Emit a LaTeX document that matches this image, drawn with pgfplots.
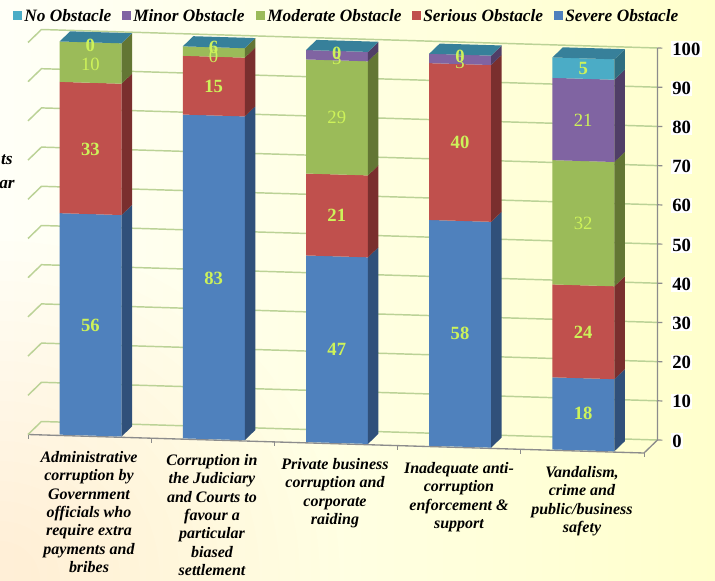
\documentclass[border=0pt]{standalone}
\usepackage{pgfplots}
\usepackage{fontspec}
\setmainfont{Liberation Serif}
\pgfplotsset{compat=1.18}

\definecolor{cblue}{HTML}{4F81BD}
\definecolor{cbluesd}{HTML}{30507A}
\definecolor{cred}{HTML}{C0504D}
\definecolor{credsd}{HTML}{7A2F2E}
\definecolor{cgreen}{HTML}{9BBB59}
\definecolor{cgreensd}{HTML}{637634}
\definecolor{cpurple}{HTML}{8064A2}
\definecolor{cpurplesd}{HTML}{503E67}
\definecolor{cteal}{HTML}{4BACC6}
\definecolor{ctealsd}{HTML}{2F6E80}
\definecolor{ctealtop}{HTML}{37809A}
\definecolor{gridc}{HTML}{BBD296}
\definecolor{lbl}{HTML}{CDF25A}
\definecolor{axc}{HTML}{8C8C8C}

% one stacked segment: position, low, high, colour
\newcommand{\seg}[4]{%
  \pgfmathsetmacro{\xa}{#1+0.25}%
  \pgfmathsetmacro{\xb}{#1+0.753}%
  \edef\temp{\noexpand\addplot3[draw=none,fill=#4] coordinates
    {(\xa,0.06,#2) (\xb,0.06,#2) (\xb,0.06,#3) (\xa,0.06,#3)} -- cycle;
    \noexpand\addplot3[draw=none,fill=#4sd] coordinates
    {(\xb,0.06,#2) (\xb,0.84,#2) (\xb,0.84,#3) (\xb,0.06,#3)} -- cycle;}%
  \temp}
\newcommand{\topf}[2]{%
  \pgfmathsetmacro{\xa}{#1+0.25}%
  \pgfmathsetmacro{\xb}{#1+0.753}%
  \edef\temp{\noexpand\addplot3[draw=none,fill=ctealtop] coordinates
    {(\xa,0.06,#2) (\xb,0.06,#2) (\xb,0.84,#2) (\xa,0.84,#2)} -- cycle;}%
  \temp}
\newcommand{\vlab}[4]{\node[text=lbl,font=#4\fontsize{14}{14}\selectfont] at (axis cs:#1+0.5,0.06,#2) {#3};}

\begin{document}
\begin{tikzpicture}[x=0.75pt,y=-0.75pt]
\path[use as bounding box] (0,0) rectangle (715,581);
\begin{scope}
\clip (0,0) rectangle (715,581);
\shade[left color=yellow!3!white,middle color=white!97!yellow,right color=yellow!20!white] (0,0) rectangle (715,581);
\foreach \r in {40,60,...,340}{
  \fill[orange,opacity=0.007] (0,581) circle (\r);
}
\end{scope}

% legend
\foreach \xx/\cc/\tt in {13/cteal/No Obstacle,122/cpurple/Minor Obstacle,256/cgreen/Moderate Obstacle,412/cred/Serious Obstacle,554/cblue/Severe Obstacle}{
  \fill[\cc] (\xx,11) rectangle ++(9,9);
  \node[anchor=west,inner sep=0pt,font=\bfseries\itshape\fontsize{13}{13}\selectfont,text=black] at (\xx+11,16) {\tt};
}
\node[anchor=east,inner sep=0pt,font=\bfseries\itshape\fontsize{13}{13}\selectfont] at (13,160) {ts};
\node[anchor=east,inner sep=0pt,font=\bfseries\itshape\fontsize{13}{13}\selectfont] at (15,185) {ar};

\coordinate (O) at (28,434.5);
\begin{axis}[
  at={(O)},anchor=origin,
  x={(92.4pt,-2.775pt)},y={(10.1pt,9.75pt)},z={(0pt,2.94pt)},
  xmin=0,xmax=5,ymin=0,ymax=1,zmin=0,zmax=100,
  clip=false,
  axis x line*=bottom,axis y line=none,axis z line*=right,
  x axis line style={axc,line width=1pt},
  z axis line style={draw=none},
  ztick style={draw=none},
  xtick=\empty,
  ztick={0,10,...,100},
  zticklabel style={anchor=west,fill=white,inner sep=1pt,xshift=10pt,yshift=-0.75pt,
    font=\bfseries\fontsize{14}{14}\selectfont},
  /pgf/number format/assume math mode=true,
]
\pgfplotsinvokeforeach{0,10,...,100}{
  \addplot3[gridc,line width=1.1pt] coordinates {(0,0,#1) (0,1,#1) (5,1,#1)};
  \addplot3[axc,line width=0.9pt] coordinates {(5,1,#1) (5.04,1,#1)};
}
\addplot3[axc,line width=1pt] coordinates {(5,0,0) (5,1,0) (5,1,100)};
\pgfplotsinvokeforeach{0,1,...,5}{
  \addplot3[axc,line width=0.7pt] coordinates {(#1,0,0) (#1,0,-1.1)};
}

% bar 1
\seg{0}{0}{56.5}{cblue}
\seg{0}{56.5}{90}{cred}
\seg{0}{90}{100.3}{cgreen}
\topf{0}{100.3}
% bar 2
\seg{1}{0}{82.6}{cblue}
\seg{1}{82.6}{97.6}{cred}
\seg{1}{97.6}{100}{cgreen}
\topf{1}{100}
% bar 3
\seg{2}{0}{47.6}{cblue}
\seg{2}{47.6}{68.5}{cred}
\seg{2}{68.5}{97.6}{cgreen}
\seg{2}{97.6}{100}{cpurple}
\topf{2}{100}
% bar 4
\seg{3}{0}{57.6}{cblue}
\seg{3}{57.6}{97.6}{cred}
\seg{3}{97.6}{100}{cpurple}
\topf{3}{100}
% bar 5
\seg{4}{0}{18.4}{cblue}
\seg{4}{18.4}{42.1}{cred}
\seg{4}{42.1}{73.8}{cgreen}
\seg{4}{73.8}{94.8}{cpurple}
\seg{4}{94.8}{100}{cteal}
\topf{4}{100}

\vlab{0}{28}{56}{\bfseries}
\vlab{0}{73}{33}{\bfseries}
\vlab{0}{94.6}{10}{}
\vlab{0}{99.5}{0}{\bfseries}
\vlab{1}{41}{83}{\bfseries}
\vlab{1}{90}{15}{\bfseries}
\vlab{1}{97.7}{0}{}
\vlab{1}{100}{6}{\bfseries}
\vlab{2}{24}{47}{\bfseries}
\vlab{2}{58}{21}{\bfseries}
\vlab{2}{83}{29}{}
\vlab{2}{98}{3}{}
\vlab{2}{99.5}{0}{\bfseries}
\vlab{3}{29}{58}{\bfseries}
\vlab{3}{77.6}{40}{\bfseries}
\vlab{3}{98}{3}{}
\vlab{3}{99.5}{0}{\bfseries}
\vlab{4}{9.5}{18}{\bfseries}
\vlab{4}{30}{24}{\bfseries}
\vlab{4}{58}{32}{}
\vlab{4}{84.3}{21}{}
\vlab{4}{97.4}{5}{\bfseries}
\end{axis}

\foreach \xx/\yy/\tt in {
  89/458/{Administrative\\corruption by\\Government\\officials who\\require extra\\payments and\\bribes},
  212/461/{Corruption in\\the Judiciary\\and Courts to\\favour a\\particular\\biased\\settlement},
  335/465/{Private business\\corruption and\\corporate\\raiding},
  459/469/{Inadequate anti-\\corruption\\enforcement \&\\support},
  582/473/{Vandalism,\\crime and\\public/business\\safety}}{
  \node[anchor=north,inner sep=0pt,align=center,font=\bfseries\itshape\fontsize{12}{13.8}\selectfont] at (\xx,\yy-7) {\tt};
}
\end{tikzpicture}
\end{document}
